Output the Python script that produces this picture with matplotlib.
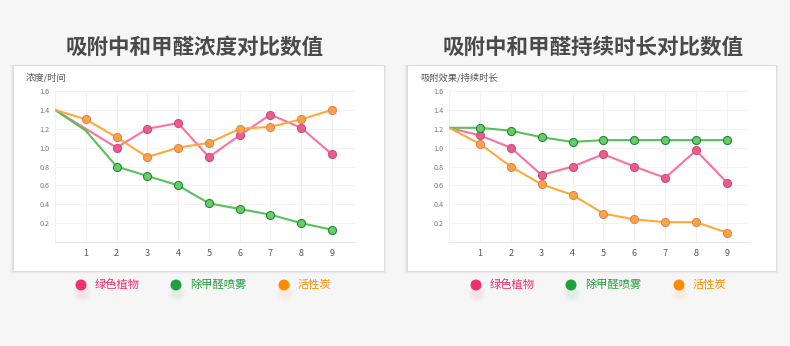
import matplotlib.pyplot as plt
from matplotlib.patches import Rectangle, Ellipse

plt.rcParams['font.family'] = ['Noto Sans CJK SC', 'DejaVu Sans']

# data
x_vals = [0, 1, 2, 3, 4, 5, 6, 7, 8, 9]
series_names = ['绿色植物', '除甲醛喷雾', '活性炭']

# left chart: concentration / time
conc_plant = [1.4, 1.2, 1.0, 1.2, 1.26, 0.9, 1.13, 1.35, 1.21, 0.93]
conc_spray = [1.4, 1.18, 0.8, 0.7, 0.6, 0.41, 0.35, 0.29, 0.2, 0.13]
conc_carbon = [1.4, 1.3, 1.11, 0.9, 1.0, 1.05, 1.2, 1.22, 1.3, 1.4]
conc_marker_from = [2, 2, 1]

# right chart: effect / duration
dur_plant = [1.21, 1.13, 1.0, 0.71, 0.8, 0.93, 0.8, 0.68, 0.97, 0.63]
dur_spray = [1.21, 1.21, 1.18, 1.11, 1.06, 1.08, 1.08, 1.08, 1.08, 1.08]
dur_carbon = [1.21, 1.04, 0.8, 0.61, 0.5, 0.3, 0.24, 0.21, 0.21, 0.1]
dur_marker_from = [1, 1, 1]

y_ticks = [0.2, 0.4, 0.6, 0.8, 1.0, 1.2, 1.4, 1.6]
x_ticks = [1, 2, 3, 4, 5, 6, 7, 8, 9]

titles = ['吸附中和甲醛浓度对比数值', '吸附中和甲醛持续时长对比数值']
y_names = ['浓度/时间', '吸附效果/持续时长']

line_colors = ['#ff6fa0', '#55c25a', '#ffa93a']
face_colors = ['#ee5b8e', '#6acb6a', '#ffa43c']
edge_colors = ['#c8507e', '#1f8a30', '#d98466']
legend_colors = ['#f0306c', '#1ea03c', '#ff8c00']

W, H = 790, 346
fig = plt.figure(figsize=(W / 100, H / 100), dpi=100)
fig.patch.set_facecolor('#f6f6f6')


def fx(px):
    return px / W


def fy(py):
    return 1 - py / H


def dot(cx, cy, d, color, alpha=1.0):
    fig.patches.append(Ellipse((fx(cx), fy(cy)), d / W, d / H, transform=fig.transFigure,
                               facecolor=color, alpha=alpha, edgecolor='none'))


def draw_panel(box_left, box_right, ax_left, ax_right, xmax, title, title_cx,
               y_name, data, marker_from, legend_x0):
    # white card with soft shadow
    for i, a in enumerate([0.035, 0.025, 0.015]):
        fig.patches.append(Rectangle((fx(box_left - 1 - i), fy(272 + i)),
                                     (box_right - box_left + 2 + 2 * i) / W, fy(65) - fy(272 + i),
                                     transform=fig.transFigure, facecolor='black',
                                     alpha=a, edgecolor='none', zorder=-3))
    fig.patches.append(Rectangle((fx(box_left), fy(271)), (box_right - box_left) / W, fy(65) - fy(271),
                                 transform=fig.transFigure, facecolor='white',
                                 edgecolor='#dcdcdc', linewidth=0.8, zorder=-1))

    fig.text(fx(title_cx), fy(47), title, ha='center', va='center',
             fontsize=15.5, fontweight='bold', color='#4a4a4a')
    fig.text(fx(box_left + 13), fy(78), y_name, ha='left', va='center',
             fontsize=6.7, color='#555555')

    ax = fig.add_axes([fx(ax_left), fy(242), (ax_right - ax_left) / W, fy(91) - fy(242)])
    ax.set_facecolor('none')
    ax.set_xlim(0, xmax)
    ax.set_ylim(0, 1.6)
    for s in ['top', 'right', 'left']:
        ax.spines[s].set_visible(False)
    ax.spines['bottom'].set_color('#e6e6e6')
    ax.spines['bottom'].set_linewidth(0.8)
    ax.set_xticks(x_ticks)
    ax.set_yticks(y_ticks)
    ax.set_yticklabels([f'{v:.1f}' for v in y_ticks])
    ax.tick_params(axis='y', length=0, labelsize=5.2, labelcolor='#777777', pad=4)
    ax.tick_params(axis='x', length=0, labelsize=6.5, labelcolor='#555555', pad=5)
    for v in y_ticks:
        ax.axhline(v, color='#f3f3f3', linewidth=0.7, zorder=0)
    for v in [0] + x_ticks + [xmax]:
        ax.axvline(v, color='#f1f1f1', linewidth=0.7, zorder=0)

    for k, vals in enumerate(data):
        ax.plot(x_vals, vals, color=line_colors[k], linewidth=1.5, zorder=2 + k * 0.1)
        m = marker_from[k]
        ax.plot(x_vals[m:], vals[m:], linestyle='none', marker='o', markersize=5.8,
                markerfacecolor=face_colors[k], markeredgecolor=edge_colors[k],
                markeredgewidth=0.8, zorder=3 + k * 0.1)

    # legend below the card
    offsets = [0, 95, 203]
    for k, name in enumerate(series_names):
        cx = legend_x0 + offsets[k]
        for d, a in [(18, 0.025), (14, 0.03), (10, 0.035)]:
            dot(cx + 1, 293, d, legend_colors[k], a)
        dot(cx, 285, 11, legend_colors[k])
        fig.text(fx(cx + 14), fy(285), name, ha='left', va='center',
                 fontsize=8.1, color=legend_colors[k])
    return ax


draw_panel(13, 384, 55, 355, 9.75, titles[0], 195, y_names[0],
           [conc_plant, conc_spray, conc_carbon], conc_marker_from, 81)
draw_panel(407, 776, 449, 748, 9.68, titles[1], 593, y_names[1],
           [dur_plant, dur_spray, dur_carbon], dur_marker_from, 476)

fig.savefig('out.png', dpi=100, facecolor=fig.get_facecolor())
